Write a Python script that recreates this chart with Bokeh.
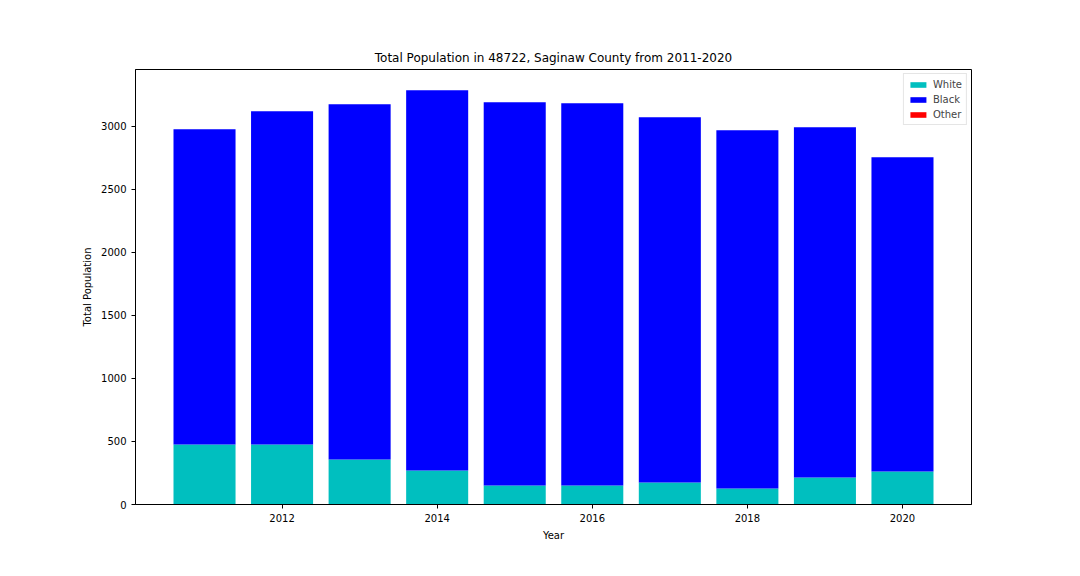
from bokeh.plotting import figure
from bokeh.models import ColumnDataSource, Range1d, Legend, LegendItem, FixedTicker
from bokeh.embed import file_html
from bokeh.resources import INLINE

years = [2011, 2012, 2013, 2014, 2015, 2016, 2017, 2018, 2019, 2020]
white = [476, 476, 357, 270, 151, 151, 175, 127, 214, 262]
black = [2500, 2643, 2818, 3016, 3039, 3032, 2896, 2841, 2778, 2492]
other = [0, 0, 0, 0, 0, 0, 0, 0, 0, 0]

wb = [w + b for w, b in zip(white, black)]
src = ColumnDataSource(dict(
    x=years, white=white, wb=wb,
    top=[t + o for t, o in zip(wb, other)],
))

p = figure(width=1064, height=560, output_backend="svg", toolbar_location=None,
           title="Total Population in 48722, Saginaw County from 2011-2020",
           x_range=Range1d(2010.11, 2020.89), y_range=Range1d(0, 3450),
           min_border_left=135, min_border_right=93, min_border_top=69,
           min_border_bottom=56)
p.title.align = "center"
p.title.text_font = "DejaVu Sans"
p.title.text_font_style = "normal"
p.title.text_font_size = "12px"
p.title.text_color = "black"

r1 = p.vbar(x="x", width=0.8, bottom=0, top="white", source=src,
            fill_color="#00bfbf", line_color=None)
r2 = p.vbar(x="x", width=0.8, bottom="white", top="wb", source=src,
            fill_color="#0000ff", line_color=None)
r3 = p.vbar(x="x", width=0.8, bottom="wb", top="top", source=src,
            fill_color="#ff0000", line_color=None)

p.xaxis.ticker = FixedTicker(ticks=[2012, 2014, 2016, 2018, 2020])
p.yaxis.ticker = FixedTicker(ticks=[0, 500, 1000, 1500, 2000, 2500, 3000])
p.xaxis.axis_label = "Year"
p.yaxis.axis_label = "Total Population"
for ax in (p.xaxis[0], p.yaxis[0]):
    ax.axis_label_text_font = "DejaVu Sans"
    ax.axis_label_text_font_style = "normal"
    ax.axis_label_text_font_size = "10px"
    ax.axis_label_text_color = "black"
    ax.major_label_text_font = "DejaVu Sans"
    ax.major_label_text_font_size = "10px"
    ax.major_label_text_color = "black"
    ax.minor_tick_line_color = None
    ax.major_tick_in = 0
    ax.major_tick_out = 4
    ax.axis_line_color = "black"
p.xgrid.visible = False
p.ygrid.visible = False
p.outline_line_color = "black"
p.outline_line_alpha = 1

legend = Legend(items=[LegendItem(label="White", renderers=[r1]),
                       LegendItem(label="Black", renderers=[r2]),
                       LegendItem(label="Other", renderers=[r3])],
                location="top_right", label_text_font="DejaVu Sans",
                label_text_font_size="10px", spacing=3, padding=4,
                glyph_height=7, glyph_width=20, label_height=12,
                border_line_color="#cccccc", margin=4)
p.add_layout(legend)

open("out.html", "w").write(file_html(p, INLINE))
